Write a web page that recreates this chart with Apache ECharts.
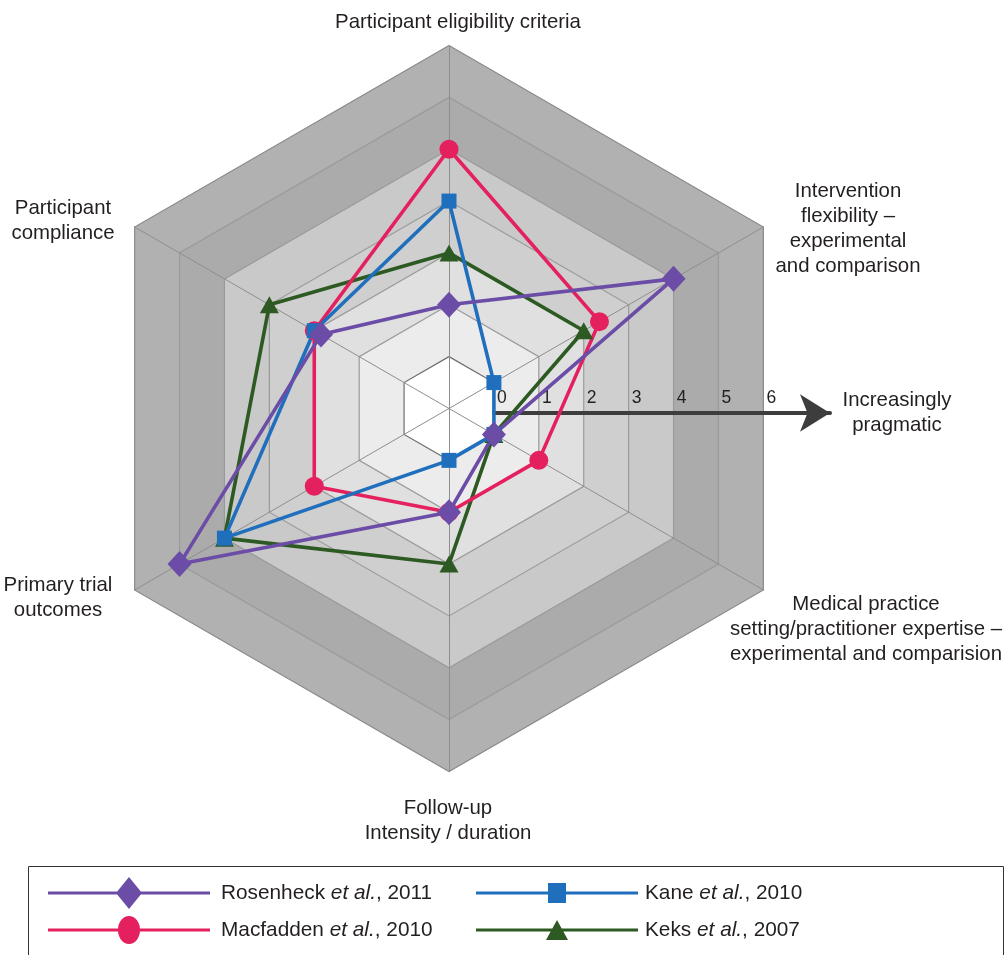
<!DOCTYPE html>
<html><head><meta charset="utf-8">
<script src="https://cdn.jsdelivr.net/npm/echarts@6/dist/echarts.min.js"></script>
<style>html,body{margin:0;padding:0;background:#fff}#c{width:1006px;height:955px}</style>
</head><body><div id="c"></div>
<script>
// ---- data (radar indicators run counter-clockwise from the top) ----
const indicators = [
  'Participant eligibility criteria',
  'Participant compliance',
  'Primary trial outcomes',
  'Follow-up Intensity / duration',
  'Medical practice setting/practitioner expertise – experimental and comparision',
  'Intervention flexibility – experimental and comparison'
];
const seriesNames = ['Rosenheck et al., 2011', 'Macfadden et al., 2010', 'Kane et al., 2010', 'Keks et al., 2007'];
const rosenheck = [1, 1.85, 5, 1, 0, 4];
const macfadden = [4, 2, 2, 1, 1, 2.35];
const kane      = [3, 2, 4, 0, 0, 0];
const keks      = [2, 3, 4, 2, 0, 2];
const scaleTicks = [0, 1, 2, 3, 4, 5, 6];
const scaleMin = -1, scaleMax = 6;

// ---- styles ----
const FONT = "'Liberation Sans', Arial, Helvetica, sans-serif";
const TXT = '#231f20';
const C_PURPLE = '#6b4ca6', C_PINK = '#e5205e', C_BLUE = '#1f6fbd', C_GREEN = '#2d5a22';

// legend icons: line + marker in a 162x32 box (tiny corner specks keep the full box)
const BOX = 'M0,0L0.01,0L0,0.01Z M162,32L161.99,32L162,31.99Z ';
const LINE = 'M0,14.5L162,14.5L162,17.5L0,17.5Z ';
const ICON_DIAMOND = 'path://' + BOX + LINE + 'M81,0L94,16L81,32L68,16Z';
const ICON_CIRCLE  = 'path://' + BOX + LINE + 'M81,2A11,14 0 1,1 81,30A11,14 0 1,1 81,2Z';
const ICON_SQUARE  = 'path://' + BOX + LINE + 'M72,6L90,6L90,26L72,26Z';
const ICON_TRI     = 'path://' + BOX + LINE + 'M81,6L92,26L70,26Z';

function legendText(padLeft) {
  return {
    fontFamily: FONT, fontSize: 20.8, color: TXT, padding: [0, 0, 0, padLeft],
    rich: { i: { fontFamily: FONT, fontSize: 20.8, color: TXT, fontStyle: 'italic' } }
  };
}
const legendFmt = name => name.replace('et al.', '{i|et al.}');

function lbl(text, x, y) {
  return { type: 'text', x: x, y: y, z: 10,
    style: { text: text, fontFamily: FONT, fontSize: 20.4, fill: TXT, align: 'center', verticalAlign: 'middle', lineHeight: 25 } };
}

const chart = echarts.init(document.getElementById('c'));
chart.setOption({
  backgroundColor: '#ffffff',
  animation: false,
  textStyle: { fontFamily: FONT },
  radar: {
    center: [449, 408.5],
    radius: 363,
    startAngle: 90,
    shape: 'polygon',
    splitNumber: 7,
    indicator: indicators.map(n => ({ name: n, min: scaleMin, max: scaleMax })),
    axisName: { show: false },
    axisLine: { lineStyle: { color: '#8e8e8e', width: 1 } },
    axisTick: { show: false },
    axisLabel: { show: false },
    splitLine: { lineStyle: { color: ['#888888', '#6e6e6e', '#9a9a9a', '#9a9a9a', '#9a9a9a', '#9a9a9a', '#9a9a9a', '#8a8a8a'], width: 1.2 } },
    splitArea: { show: true, areaStyle: { color: ['#ffffff', '#ececec', '#e0e0e0', '#cfcfcf', '#c9c9c9', '#ababab', '#b1b1b1'] } }
  },
  grid: { left: 494, top: 412, width: 336, height: 1, containLabel: false, outerBoundsMode: 'none' },
  xAxis: {
    type: 'value', min: 0, max: 7.48, interval: 1,
    axisLine: { show: true, onZero: false, lineStyle: { color: '#3d3d3d', width: 4 }, symbol: ['none', 'arrow'], symbolSize: [28, 30] },
    axisTick: { show: false }, splitLine: { show: false },
    axisLabel: { inside: true, margin: 6, align: 'left', padding: [0, 0, 0, 3], fontFamily: FONT, fontSize: 17.5, color: TXT,
      formatter: v => scaleTicks.indexOf(v) >= 0 ? String(v) : '' }
  },
  yAxis: { type: 'value', show: false },
  legend: [
    { data: [{ name: seriesNames[0], icon: ICON_DIAMOND }, { name: seriesNames[1], icon: ICON_CIRCLE }],
      left: 43, top: 872, orient: 'vertical', itemWidth: 162, itemHeight: 32, itemGap: 5, selectedMode: false,
      itemStyle: { borderWidth: 0 }, textStyle: legendText(6), formatter: legendFmt },
    { data: [{ name: seriesNames[2], icon: ICON_SQUARE }, { name: seriesNames[3], icon: ICON_TRI }],
      left: 471, top: 872, orient: 'vertical', itemWidth: 162, itemHeight: 32, itemGap: 5, selectedMode: false,
      itemStyle: { borderWidth: 0 }, textStyle: legendText(2), formatter: legendFmt }
  ],
  graphic: [
    { type: 'rect', z: 0, shape: { x: 28.5, y: 866.5, width: 975, height: 120 }, style: { fill: 'none', stroke: '#333333', lineWidth: 1 } },
    lbl('Participant eligibility criteria', 458, 22),
    lbl('Intervention\nflexibility –\nexperimental\nand comparison', 848, 228.5),
    lbl('Medical practice\nsetting/practitioner expertise –\nexperimental and comparision', 866, 629),
    lbl('Follow-up\nIntensity / duration', 448, 820.5),
    lbl('Primary trial\noutcomes', 58, 597.5),
    lbl('Participant\ncompliance', 63, 220.5),
    lbl('Increasingly\npragmatic', 897, 412.5)
  ],
  series: [{
    type: 'radar',
    z: 5,
    data: [
      { name: seriesNames[3], value: keks, symbol: 'triangle', symbolSize: [19, 17],
        itemStyle: { color: C_GREEN }, lineStyle: { color: C_GREEN, width: 3.6 } },
      { name: seriesNames[1], value: macfadden, symbol: 'circle', symbolSize: 19,
        itemStyle: { color: C_PINK }, lineStyle: { color: C_PINK, width: 3.6 } },
      { name: seriesNames[2], value: kane, symbol: 'rect', symbolSize: 15,
        itemStyle: { color: C_BLUE }, lineStyle: { color: C_BLUE, width: 3.6 } },
      { name: seriesNames[0], value: rosenheck, symbol: 'diamond', symbolSize: [24, 26],
        itemStyle: { color: C_PURPLE }, lineStyle: { color: C_PURPLE, width: 3.6 } }
    ]
  }]
});
</script></body></html>
